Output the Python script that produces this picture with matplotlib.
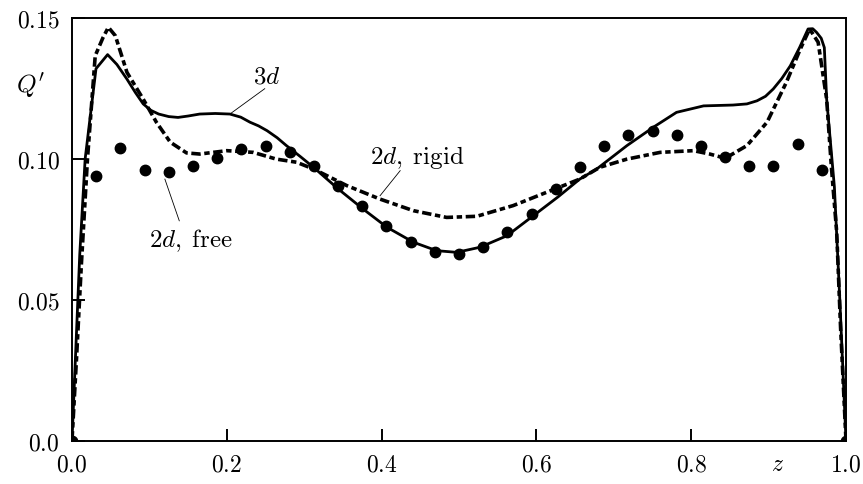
import numpy as np
import matplotlib
matplotlib.use('Agg')
import matplotlib.pyplot as plt

plt.rcParams['mathtext.fontset'] = 'cm'
plt.rcParams['font.family'] = 'serif'

# 3d solution (solid)
z_3d = [0.0, 0.005, 0.010, 0.017, 0.031, 0.046, 0.058, 0.071, 0.082, 0.092, 0.102, 0.112, 0.125,
        0.137, 0.150, 0.165, 0.185, 0.204, 0.218, 0.230, 0.241, 0.252, 0.265, 0.277, 0.295, 0.312,
        0.344, 0.376, 0.407, 0.441, 0.471, 0.497, 0.527, 0.562, 0.596, 0.628, 0.656, 0.678, 0.717,
        0.751, 0.781, 0.816, 0.854, 0.872, 0.885, 0.896, 0.906, 0.917, 0.928, 0.940, 0.951, 0.957,
        0.962, 0.968, 0.972, 0.975, 0.985, 0.992, 1.0]
q_3d = [0.0, 0.033, 0.066, 0.100, 0.132, 0.137, 0.1335, 0.1283, 0.1235, 0.1195, 0.1172, 0.1159, 0.1150,
        0.1147, 0.1152, 0.1159, 0.1161, 0.1159, 0.1148, 0.1130, 0.1117, 0.1100, 0.1075, 0.1047, 0.1008, 0.0970,
        0.0893, 0.0822, 0.0757, 0.0704, 0.0674, 0.0668, 0.0686, 0.0727, 0.0798, 0.0865, 0.0928, 0.0964, 0.1047,
        0.1112, 0.1165, 0.1188, 0.1191, 0.1195, 0.1206, 0.1222, 0.1248, 0.1285, 0.1330, 0.1395, 0.1461, 0.1462,
        0.1449, 0.1428, 0.1395, 0.1212, 0.0900, 0.0500, 0.0]

# 2d, rigid walls (dashed)
z_rigid = [0.0, 0.006, 0.012, 0.020, 0.030, 0.040, 0.047, 0.056, 0.071, 0.092, 0.109, 0.127, 0.148, 0.165,
           0.200, 0.234, 0.264, 0.290, 0.312, 0.355, 0.398, 0.441, 0.484, 0.523, 0.570, 0.613, 0.656,
           0.682, 0.717, 0.760, 0.803, 0.824, 0.844, 0.872, 0.898, 0.923, 0.941, 0.953, 0.964, 0.975,
           0.981, 0.988, 0.993, 1.0]
q_rigid = [0.0, 0.030, 0.062, 0.100, 0.1366, 0.1430, 0.1467, 0.1437, 0.1307, 0.1212, 0.1130, 0.1059, 0.1021, 0.1017,
           0.1029, 0.1023, 0.0999, 0.0988, 0.0964, 0.0905, 0.0857, 0.0816, 0.0792, 0.0796, 0.0834, 0.0881, 0.0928,
           0.0970, 0.0999, 0.1023, 0.1029, 0.1017, 0.1002, 0.1047, 0.1130, 0.1272, 0.1390, 0.1461, 0.1414, 0.1212,
           0.0976, 0.0739, 0.0400, 0.0]

# 2d, free surface (dots)
z_free = np.arange(33) / 32
q_free = [0.0, 0.0940, 0.1037, 0.0960, 0.0952, 0.0974, 0.1003, 0.1035, 0.1046, 0.1025, 0.0973,
          0.0902, 0.0833, 0.0762, 0.0703, 0.0670, 0.0662, 0.0686, 0.0739, 0.0804, 0.0893, 0.0970,
          0.1044, 0.1085, 0.1098, 0.1086, 0.1047, 0.1005, 0.0976, 0.0976, 0.1051, 0.0962, 0.0]

xticks = [0.0, 0.2, 0.4, 0.6, 0.8, 1.0]
xlabels = ['0.0', '0.2', '0.4', '0.6', '0.8', '1.0']
yticks = [0.0, 0.05, 0.10, 0.15]
ylabels = ['0.0', '0.05', '0.10', '0.15']

fig = plt.figure(figsize=(8.63, 4.85), dpi=100)
ax = fig.add_axes([72 / 863, 1 - 441.5 / 485, 774 / 863, 422.5 / 485])

ax.plot(z_3d, q_3d, color='black', lw=2.0, solid_joinstyle='round')
ax.plot(z_rigid, q_rigid, color='black', lw=2.6, dashes=[2.6, 1.0, 1.5, 1.0])
ax.plot(z_free, q_free, 'o', color='black', ms=7.5)

ax.set_xlim(0, 1)
ax.set_ylim(0, 0.15)
ax.set_xticks(xticks)
ax.set_xticklabels(['$%s$' % s for s in xlabels])
ax.set_yticks(yticks)
ax.set_yticklabels(['$%s$' % s for s in ylabels])
ax.tick_params(direction='in', length=9, width=1.4, labelsize=17, pad=9)
for sp in ax.spines.values():
    sp.set_linewidth(1.4)

# curve labels with leader lines
ax.text(0.2515, 0.1294, '$3d$', fontsize=18, ha='center', va='center')
ax.plot([0.204, 0.249], [0.1159, 0.1249], color='black', lw=0.6)
ax.text(0.4457, 0.1008, r'$2d\mathrm{,\;rigid}$', fontsize=18, ha='center', va='center')
ax.plot([0.398, 0.424], [0.0869, 0.0958], color='black', lw=0.6)
ax.text(0.1537, 0.0712, r'$2d\mathrm{,\;free}$', fontsize=18, ha='center', va='center')
ax.plot([0.120, 0.1386], [0.0928, 0.0780], color='black', lw=0.6)

fig.text(31 / 863, 1 - 86 / 485, "$Q'$", fontsize=18, ha='center', va='center')
fig.text(778 / 863, 1 - 465 / 485, '$z$', fontsize=17, ha='center', va='center')

fig.savefig('out.png', dpi=100)
